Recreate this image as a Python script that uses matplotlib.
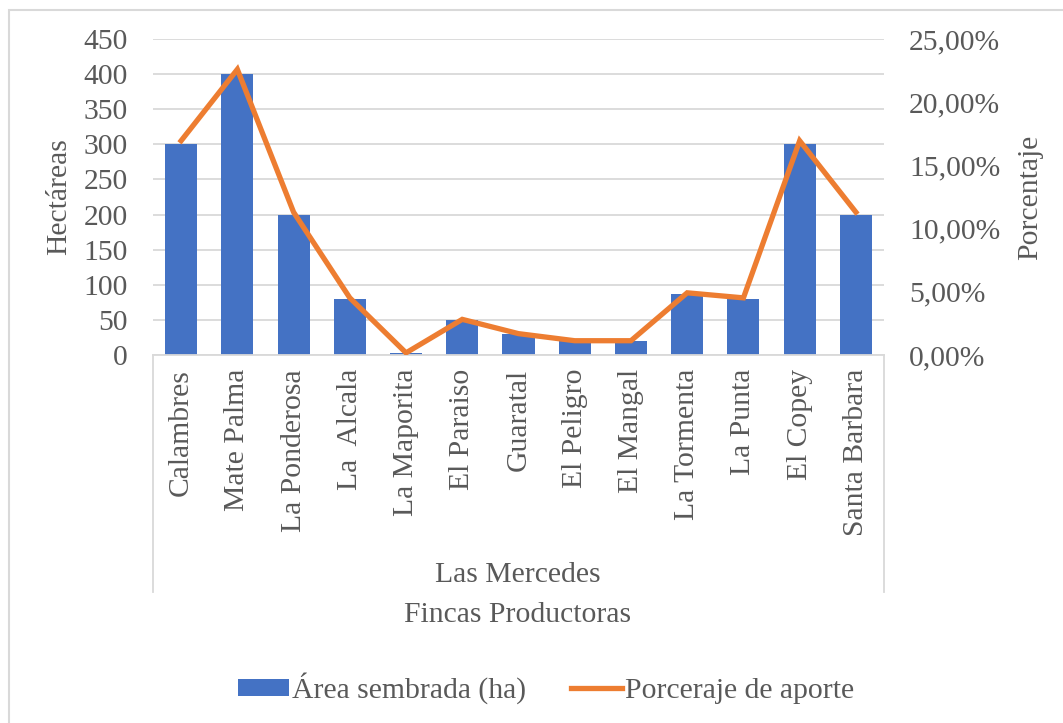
import matplotlib.pyplot as plt
from matplotlib.patches import Patch, Rectangle
from matplotlib.lines import Line2D
from matplotlib.ticker import FuncFormatter, MultipleLocator

plt.rcParams['font.family'] = ['Liberation Serif', 'DejaVu Serif']

fincas = ["Calambres", "Mate Palma", "La Ponderosa", "La  Alcala", "La Maporita",
          "El Paraiso", "Guaratal", "El Peligro", "El Mangal", "La Tormenta",
          "La Punta", "El Copey", "Santa Barbara"]
area_ha = [300, 400, 200, 80, 3, 50, 30, 20, 20, 87, 80, 300, 200]
aporte_pct = [16.95, 22.60, 11.30, 4.52, 0.17, 2.82, 1.69, 1.13, 1.13, 4.92, 4.52, 16.95, 11.30]

BLUE = "#4472C4"
ORANGE = "#ED7D31"
TEXT = "#595959"
GRID = "#D9D9D9"
FS = 21.3

W, H = 1063, 723
fig = plt.figure(figsize=(W / 100, H / 100), dpi=100)

# plot area in pixels
x0, x1, y_top, y_bot = 153, 884, 39, 355
ax = fig.add_axes([x0 / W, 1 - y_bot / H, (x1 - x0) / W, (y_bot - y_top) / H])

# outer chart frame (only top and left edges fall inside the image)
fig.add_artist(Rectangle((9 / W, -0.1), 1.2, 1 - 10 / H + 0.1, transform=fig.transFigure,
                         fill=False, edgecolor=GRID, linewidth=1.5))

xs = range(len(fincas))
ax.bar(xs, area_ha, width=0.57, color=BLUE, zorder=2)
ax.set_xlim(-0.5, len(fincas) - 0.5)
ax.set_ylim(0, 450)
ax.yaxis.set_major_locator(MultipleLocator(50))
ax.grid(axis='y', color=GRID, linewidth=1.3, zorder=0)
ax.set_axisbelow(True)

for s in ['top', 'left', 'right']:
    ax.spines[s].set_visible(False)
ax.spines['bottom'].set_color(GRID)
ax.spines['bottom'].set_linewidth(1.3)

ax.set_xticks(list(xs))
ax.set_xticklabels(fincas, rotation=90, va='top', ha='center')
ax.tick_params(axis='x', length=0, pad=10, labelsize=FS, labelcolor=TEXT)
ax.tick_params(axis='y', length=0, pad=18, labelsize=FS, labelcolor=TEXT)

ax.set_ylabel("Hectáreas", fontsize=FS, color=TEXT)
ax.yaxis.set_label_coords(-0.110, 0.5)

ax2 = ax.twinx()
ax2.plot(xs, aporte_pct, color=ORANGE, linewidth=3.8, solid_joinstyle='miter', zorder=3)
ax2.set_ylim(0, 25)
ax2.yaxis.set_major_locator(MultipleLocator(5))
ax2.yaxis.set_major_formatter(FuncFormatter(lambda v, p: f"{v:.2f}%".replace(".", ",")))
ax2.tick_params(axis='y', length=0, pad=18, labelsize=FS, labelcolor=TEXT)
for s in ax2.spines.values():
    s.set_visible(False)
ax2.set_ylabel("Porcentaje", fontsize=FS, color=TEXT)
ax2.yaxis.set_label_coords(1.182, 0.5)

# multi-level category box
depth = (592 - y_bot) / (y_bot - y_top)
for xe in (0, 1):
    ax.add_line(Line2D([xe, xe], [0, -depth], transform=ax.transAxes, color=GRID,
                       linewidth=1.3, clip_on=False))

ax.text(0.4993, (y_bot - 575) / (y_bot - y_top), "Las Mercedes", transform=ax.transAxes,
        ha='center', va='center', fontsize=FS, color=TEXT)
ax.text(0.4993, (y_bot - 615) / (y_bot - y_top), "Fincas Productoras", transform=ax.transAxes,
        ha='center', va='center', fontsize=FS, color=TEXT)

handles = [Patch(facecolor=BLUE, edgecolor='none'),
           Line2D([0], [0], color=ORANGE, linewidth=3.8)]
fig.legend(handles, ["Área sembrada (ha)", "Porceraje de aporte"], ncol=2,
           loc='center', bbox_to_anchor=(546 / W, 1 - 688 / H), frameon=False,
           fontsize=FS, labelcolor=TEXT, handlelength=1.75, handleheight=0.5,
           handletextpad=0.1, columnspacing=1.5)

fig.savefig("out.png", dpi=100)
